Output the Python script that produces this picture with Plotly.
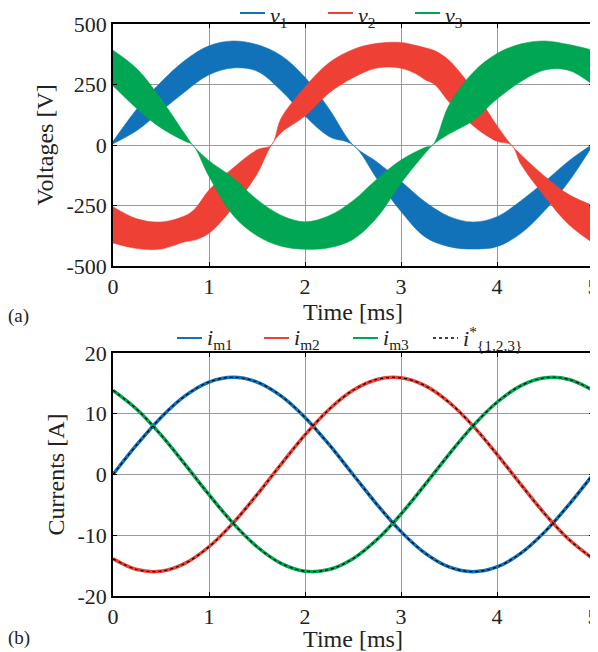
import plotly.graph_objects as go

# ---------------- Data ----------------
# Voltage bands (upper / lower envelopes), time in ms, volts
t_v1 = [0, 0.25, 0.5, 0.75, 1.0, 1.25, 1.5, 1.75, 2.0, 2.25, 2.5,
        2.75, 3.0, 3.25, 3.5, 3.75, 4.0, 4.25, 4.5, 4.75, 5.0]
v1_hi = [15, 150, 260, 350, 410, 430, 415, 370, 280, 150, 0,
         -70, -150, -235, -295, -318, -296, -230, -150, -65, 5]
v1_lo = [5, 60, 140, 220, 290, 318, 305, 225, 120, 35, 0,
         -140, -275, -380, -420, -430, -420, -365, -270, -150, 0]

t_v2 = [0, 0.25, 0.5, 0.75, 0.85, 1.0, 1.25, 1.5, 1.65, 1.75, 2.0, 2.25, 2.5,
        2.75, 3.0, 3.15, 3.25, 3.35, 3.5, 3.75, 4.0, 4.15, 4.25, 4.5, 4.75, 5.0]
v2_hi = [-255, -305, -318, -292, -265, -186, -95, -20, 0, 110, 240, 340, 395,
         420, 424, 412, 402, 390, 350, 230, 80, 0, -40, -130, -205, -250]
v2_lo = [-405, -428, -430, -400, -393, -365, -258, -120, 0, 50, 120, 215, 278,
         318, 317, 295, 270, 250, 178, 80, 15, 0, -80, -215, -330, -405]

t_v3 = [0, 0.25, 0.5, 0.75, 0.83, 1.0, 1.25, 1.5, 1.75, 2.0, 2.25, 2.5,
        2.75, 3.0, 3.25, 3.33, 3.5, 3.75, 4.0, 4.25, 4.5, 4.75, 5.0]
v3_hi = [392, 315, 190, 45, 0, -65, -135, -225, -290, -317, -292, -230,
         -140, -62, -10, 0, 165, 300, 378, 418, 430, 415, 392]
v3_lo = [245, 150, 70, 15, 0, -130, -290, -375, -418, -431, -425, -390,
         -300, -158, -35, 0, 45, 100, 190, 262, 310, 308, 248]

# Currents, time in ms, amperes
t_i = [0, 0.25, 0.5, 0.75, 1.0, 1.25, 1.5, 1.75, 2.0, 2.25, 2.5,
       2.75, 3.0, 3.25, 3.5, 3.75, 4.0, 4.25, 4.5, 4.75, 5.0]
i_m1 = [0, 4.94, 9.40, 12.94, 15.22, 16.0, 15.22, 12.94, 9.40, 4.94, 0,
        -4.94, -9.40, -12.94, -15.22, -16.0, -15.22, -12.94, -9.40, -4.94, 0]
i_m2 = [-13.86, -15.65, -15.91, -14.62, -11.89, -8.0, -3.33, 1.67, 6.51, 10.71, 13.86,
        15.65, 15.91, 14.62, 11.89, 8.0, 3.33, -1.67, -6.51, -10.71, -13.86]
i_m3 = [13.86, 10.71, 6.51, 1.67, -3.33, -8.0, -11.89, -14.62, -15.91, -15.65, -13.86,
        -10.71, -6.51, -1.67, 3.33, 8.0, 11.89, 14.62, 15.91, 15.65, 13.86]

x_ticks = [0, 1, 2, 3, 4, 5]
v_ticks = [-500, -250, 0, 250, 500]
v_ticklabels = ["-500", "-250", "0", "250", "500"]
i_ticks = [-20, -10, 0, 10, 20]
i_ticklabels = ["-20", "-10", "0", "10", "20"]

v_names = ["<i>v</i><sub>1</sub>", "<i>v</i><sub>2</sub>", "<i>v</i><sub>3</sub>"]
i_names = ["<i>i</i><sub>m1</sub>", "<i>i</i><sub>m2</sub>", "<i>i</i><sub>m3</sub>",
           "<i>i</i><sup>*</sup><sub>{1,2,3}</sub>"]

BLUE = "#1172B9"
RED = "#EE4035"
GREEN = "#00A651"
FONT = "Liberation Serif"
TXT = "#222222"

# The page body adds an 8 px offset; the figure fills the rest of the 598x652 window.
OFF = 8
W, H = 598 - OFF, 652 - OFF
ML, MR, MT, MB = 113 - OFF, 5, 24 - OFF, 56
PW, PH = W - ML - MR, H - MT - MB


def px(x):
    return (x - OFF - ML) / PW


def py(y):
    return (H - MB - (y - OFF)) / PH


fig = go.Figure()

# ---------------- Voltage bands ----------------
bands = [(t_v1, v1_hi, v1_lo, BLUE), (t_v2, v2_hi, v2_lo, RED), (t_v3, v3_hi, v3_lo, GREEN)]
for (t, hi, lo, col), name in zip(bands, v_names):
    fig.add_trace(go.Scatter(x=t, y=lo, mode="lines", line=dict(color=col, width=0.5, shape="spline"),
                             showlegend=False, hoverinfo="skip", xaxis="x", yaxis="y"))
    fig.add_trace(go.Scatter(x=t, y=hi, mode="lines", line=dict(color=col, width=0.5, shape="spline"),
                             fill="tonexty", fillcolor=col, name=name, showlegend=False,
                             hoverinfo="skip", xaxis="x", yaxis="y"))

# ---------------- Currents ----------------
currents = [(i_m1, BLUE), (i_m2, RED), (i_m3, GREEN)]
for (y, col), name in zip(currents, i_names):
    fig.add_trace(go.Scatter(x=t_i, y=y, mode="lines", line=dict(color=col, width=3.5, shape="spline"),
                             name=name, showlegend=False, xaxis="x2", yaxis="y2"))
for y, col in currents:
    fig.add_trace(go.Scatter(x=t_i, y=y, mode="lines",
                             line=dict(color="black", width=1.2, dash="dot", shape="spline"),
                             name=i_names[3], showlegend=False, xaxis="x2", yaxis="y2"))

# ---------------- Legends (drawn as line samples + text) ----------------
shapes = []
annotations = []
top_leg = [(240, BLUE, "solid", v_names[0]), (328, RED, "solid", v_names[1]),
           (415, GREEN, "solid", v_names[2])]
bot_leg = [(177, BLUE, "solid", i_names[0]), (264, RED, "solid", i_names[1]),
           (353, GREEN, "solid", i_names[2]), (433, "black", "dot", i_names[3])]
for items, yy, dy in [(top_leg, 13, 4), (bot_leg, 338, 1)]:
    for x0, col, dash, name in items:
        shapes.append(dict(type="line", xref="paper", yref="paper", x0=px(x0), x1=px(x0 + 25),
                           y0=py(yy), y1=py(yy),
                           line=dict(color=col, width=2 if dash == "solid" else 1.3, dash=dash)))
        annotations.append(dict(text=name, xref="paper", yref="paper", x=px(x0 + 28), y=py(yy + dy),
                                xanchor="left", yanchor="middle", showarrow=False,
                                font=dict(family=FONT, size=22, color=TXT)))

annotations.append(dict(text="(a)", xref="paper", yref="paper", x=px(6), y=py(316), xanchor="left",
                        yanchor="middle", showarrow=False, font=dict(family=FONT, size=19, color=TXT)))
annotations.append(dict(text="(b)", xref="paper", yref="paper", x=px(6), y=py(638), xanchor="left",
                        yanchor="middle", showarrow=False, font=dict(family=FONT, size=19, color=TXT)))

axis_common = dict(showline=True, linecolor="black", linewidth=1.5, mirror="ticks",
                   ticks="inside", ticklen=4, tickcolor="black",
                   showgrid=True, gridcolor="#9a9a9a", gridwidth=1,
                   zeroline=False, automargin=False, ticklabeloverflow="allow",
                   tickfont=dict(family=FONT, size=22, color=TXT))
title_font = dict(family=FONT, size=24, color=TXT)

fig.update_layout(
    template="none",
    width=W, height=H,
    margin=dict(l=ML, r=MR, t=MT, b=MB),
    plot_bgcolor="white", paper_bgcolor="white",
    font=dict(family=FONT, size=20, color=TXT),
    showlegend=False,
    xaxis=dict(domain=[0, 1], anchor="y", range=[0, 5], tickvals=x_ticks,
               title=dict(text="Time [ms]", font=title_font, standoff=0), **axis_common),
    yaxis=dict(domain=[py(266), 1], anchor="x", range=[-500, 500], tickvals=v_ticks,
               ticktext=v_ticklabels,
               title=dict(text="Voltages [V]", font=title_font, standoff=6), **axis_common),
    xaxis2=dict(domain=[0, 1], anchor="y2", range=[0, 5], tickvals=x_ticks,
                title=dict(text="Time [ms]", font=title_font, standoff=0), **axis_common),
    yaxis2=dict(domain=[0, py(353)], anchor="x2", range=[-20, 20], tickvals=i_ticks,
                ticktext=i_ticklabels,
                title=dict(text="Currents [A]", font=title_font, standoff=6), **axis_common),
    shapes=shapes,
    annotations=annotations,
)

fig.write_html("out.html")
